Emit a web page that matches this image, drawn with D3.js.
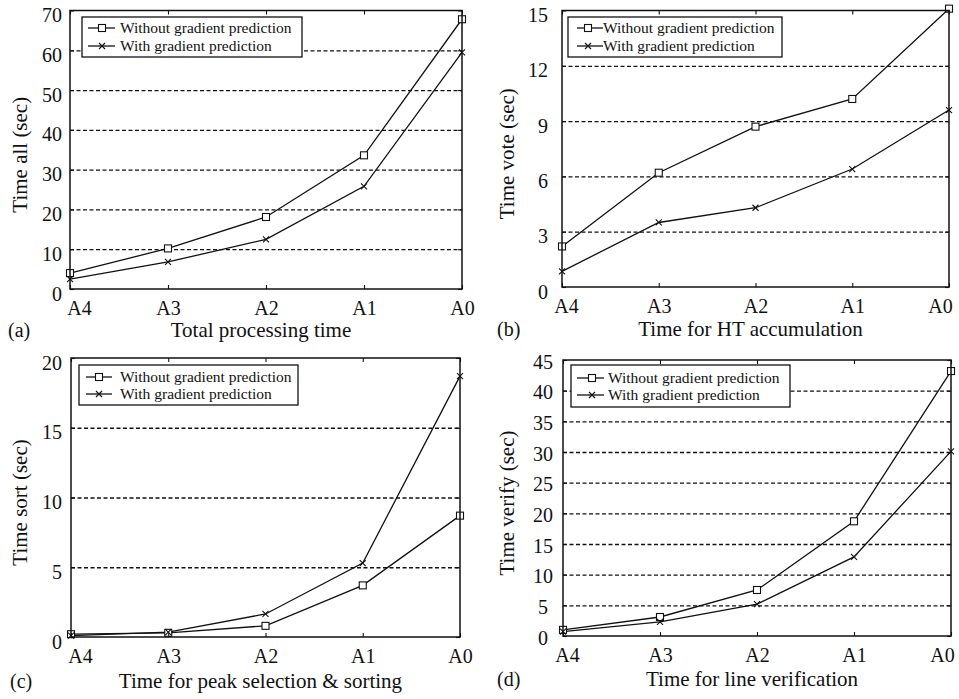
<!DOCTYPE html>
<html>
<head>
<meta charset="utf-8">
<script src="https://cdn.jsdelivr.net/npm/d3@7"></script>
<style>
  body { margin: 0; background: #fff; }
  svg text { font-family: "Liberation Serif", "Times New Roman", "DejaVu Serif", serif !important; }
</style>
</head>
<body>
<svg width="959" height="699"></svg>
<script>
// categories along the x axis
var categories = ["A4", "A3", "A2", "A1", "A0"];
var seriesNames = ["Without gradient prediction", "With gradient prediction"];

// values (sec)
var allWithout = [4.0, 10.2, 18.1, 33.6, 67.8];
var allWith = [2.5, 6.8, 12.5, 25.8, 59.5];
var voteWithout = [2.2, 6.2, 8.7, 10.2, 15.1];
var voteWith = [0.85, 3.5, 4.3, 6.4, 9.6];
var sortWithout = [0.2, 0.3, 0.8, 3.7, 8.7];
var sortWith = [0.1, 0.35, 1.65, 5.3, 18.7];
var verifyWithout = [1.0, 3.1, 7.5, 18.7, 43.2];
var verifyWith = [0.7, 2.3, 5.2, 12.9, 30.1];

// tick labels for each y axis
var allTicks = [0, 10, 20, 30, 40, 50, 60, 70];
var voteTicks = [0, 3, 6, 9, 12, 15];
var sortTicks = [0, 5, 10, 15, 20];
var verifyTicks = [0, 5, 10, 15, 20, 25, 30, 35, 40, 45];

var svg = d3.select("svg");

var panels = [
  {tag: "(a)", title: "Total processing time", ylabel: "Time all (sec)",
   without: allWithout, withG: allWith, ticks: allTicks,
   x0: 70, x1: 462, y0: 10.5, y1: 289, pad: 8, firstDx: 9, tagX: 8, tagY: 337, ylabX: 20,
   leg: {x: 82, y: 17, w: 220, h: 40, lx0: 88, lx1: 115, mx: 102, tx: 120, r1: 28, r2: 46}},
  {tag: "(b)", title: "Time for HT accumulation", ylabel: "Time vote (sec)",
   without: voteWithout, withG: voteWith, ticks: voteTicks,
   x0: 562, x1: 949, y0: 10.5, y1: 287, pad: 14, firstDx: 4, tagX: 497, tagY: 336, ylabX: 507,
   leg: {x: 568, y: 17, w: 214, h: 40, lx0: 577, lx1: 603, mx: 588, tx: 603, r1: 28, r2: 46}},
  {tag: "(c)", title: "Time for peak selection & sorting", ylabel: "Time sort (sec)",
   without: sortWithout, withG: sortWith, ticks: sortTicks,
   x0: 71, x1: 460, y0: 358, y1: 637, pad: 9, firstDx: 9, tagX: 10, tagY: 688, ylabX: 20,
   leg: {x: 79, y: 365, w: 219, h: 40, lx0: 86, lx1: 112, mx: 99, tx: 120, r1: 377, r2: 394}},
  {tag: "(d)", title: "Time for line verification", ylabel: "Time verify (sec)",
   without: verifyWithout, withG: verifyWith, ticks: verifyTicks,
   x0: 563, x1: 951, y0: 360, y1: 636, pad: 5, firstDx: 4, centerY: 20, tagX: 497, tagY: 686, ylabX: 507,
   leg: {x: 571, y: 365, w: 219, h: 42, lx0: 577, lx1: 604, mx: 592, tx: 608, r1: 378, r2: 395}}
];

function squareMark(g, cx, cy) {
  g.append("rect")
    .attr("x", cx - 3.5).attr("y", cy - 3.5)
    .attr("width", 7).attr("height", 7)
    .attr("fill", "#fff").attr("stroke", "#111").attr("stroke-width", 1.1);
}

function crossMark(g, cx, cy) {
  g.append("path")
    .attr("d", "M" + (cx - 3) + "," + (cy - 3) + "L" + (cx + 3) + "," + (cy + 3) +
               "M" + (cx - 3) + "," + (cy + 3) + "L" + (cx + 3) + "," + (cy - 3))
    .attr("stroke", "#111").attr("stroke-width", 1.1).attr("fill", "none");
}

panels.forEach(function(p) {
  var x = d3.scalePoint().domain(categories).range([p.x0, p.x1]);
  var ymax = p.ticks[p.ticks.length - 1];
  var y = d3.scaleLinear().domain([0, ymax]).range([p.y1, p.y0]);
  var w = p.x1 - p.x0;
  var g = svg.append("g");

  // dashed grid lines (interior ticks only)
  g.append("g")
      .attr("class", "grid")
      .attr("transform", "translate(" + p.x0 + ",0)")
      .call(d3.axisLeft(y).tickValues(p.ticks.slice(1, -1)).tickSize(-w).tickFormat(""))
      .call(function(s) {
        s.select(".domain").remove();
        s.selectAll("line").attr("stroke", "#111").attr("stroke-width", 1.3)
          .attr("stroke-dasharray", "4,2.5");
      });

  // series lines
  var line = d3.line()
      .x(function(d, i) { return x(categories[i]); })
      .y(function(d) { return y(d); });

  [p.without, p.withG].forEach(function(vals) {
    g.append("path")
      .datum(vals)
      .attr("d", line)
      .attr("fill", "none")
      .attr("stroke", "#111")
      .attr("stroke-width", 1.3);
  });

  p.without.forEach(function(v, i) { squareMark(g, x(categories[i]), y(v)); });
  p.withG.forEach(function(v, i) { crossMark(g, x(categories[i]), y(v)); });

  // axes with inside ticks
  var left = g.append("g")
      .attr("class", "ax")
      .attr("transform", "translate(" + p.x0 + ",0)")
      .call(d3.axisLeft(y).tickValues(p.ticks).tickSizeInner(-4).tickSizeOuter(0).tickPadding(p.pad));
  left.selectAll("text").attr("dy", "0.55em");
  if (p.centerY) {
    left.selectAll("text").attr("text-anchor", "middle").attr("x", -p.centerY).attr("dy", "0.4em");
  }

  var bottom = g.append("g")
      .attr("class", "ax")
      .attr("transform", "translate(0," + p.y1 + ")")
      .call(d3.axisBottom(x).tickSizeInner(-4).tickSizeOuter(0).tickPadding(12));
  // A4 sits a bit right of its tick, A0 kept inside the page
  bottom.selectAll("text").attr("dx", function(d) {
    if (d === "A4") return p.firstDx;
    return (d === "A0" && p.x1 > 940) ? -9 : 0;
  });

  g.append("g")
      .attr("class", "ax")
      .attr("transform", "translate(0," + p.y0 + ")")
      .call(d3.axisTop(x).tickSizeInner(-4).tickSizeOuter(0).tickFormat(""));

  g.append("g")
      .attr("class", "ax")
      .attr("transform", "translate(" + p.x1 + ",0)")
      .call(d3.axisRight(y).tickValues(p.ticks).tickSizeInner(-4).tickSizeOuter(0).tickFormat(""));

  g.selectAll(".ax .tick text")
      .attr("font-size", 20)
      .attr("fill", "#111");
  g.selectAll(".ax .domain").attr("stroke", "none");
  g.selectAll(".ax .tick line").attr("stroke", "#111").attr("stroke-width", 1.1);

  // frame
  g.append("rect")
      .attr("x", p.x0).attr("y", p.y0)
      .attr("width", w).attr("height", p.y1 - p.y0)
      .attr("fill", "none").attr("stroke", "#111").attr("stroke-width", 1.5);

  // legend
  var L = p.leg;
  g.append("rect")
      .attr("x", L.x).attr("y", L.y).attr("width", L.w).attr("height", L.h)
      .attr("fill", "#fff").attr("stroke", "#111").attr("stroke-width", 1.3);
  [L.r1, L.r2].forEach(function(ry, k) {
    g.append("line")
      .attr("x1", L.lx0).attr("x2", L.lx1).attr("y1", ry).attr("y2", ry)
      .attr("stroke", "#111").attr("stroke-width", 1.3);
    if (k === 0) squareMark(g, L.mx, ry); else crossMark(g, L.mx, ry);
    g.append("text")
      .attr("x", L.tx).attr("y", ry + 5)
      .attr("font-size", 15.5)
      .attr("fill", "#111")
      .text(seriesNames[k]);
  });

  // axis titles and panel tag
  g.append("text")
      .attr("x", (p.x0 + p.x1) / 2 - 5)
      .attr("y", p.tagY)
      .attr("text-anchor", "middle")
      .attr("font-size", 21)
      .attr("fill", "#111")
      .text(p.title);

  g.append("text")
      .attr("transform", "translate(" + p.ylabX + "," + ((p.y0 + p.y1) / 2 + 5) + ") rotate(-90)")
      .attr("text-anchor", "middle")
      .attr("dy", "0.35em")
      .attr("font-size", 21)
      .attr("fill", "#111")
      .text(p.ylabel);

  g.append("text")
      .attr("x", p.tagX)
      .attr("y", p.tagY)
      .attr("font-size", 20)
      .attr("fill", "#111")
      .text(p.tag);
});
</script>
</body>
</html>
